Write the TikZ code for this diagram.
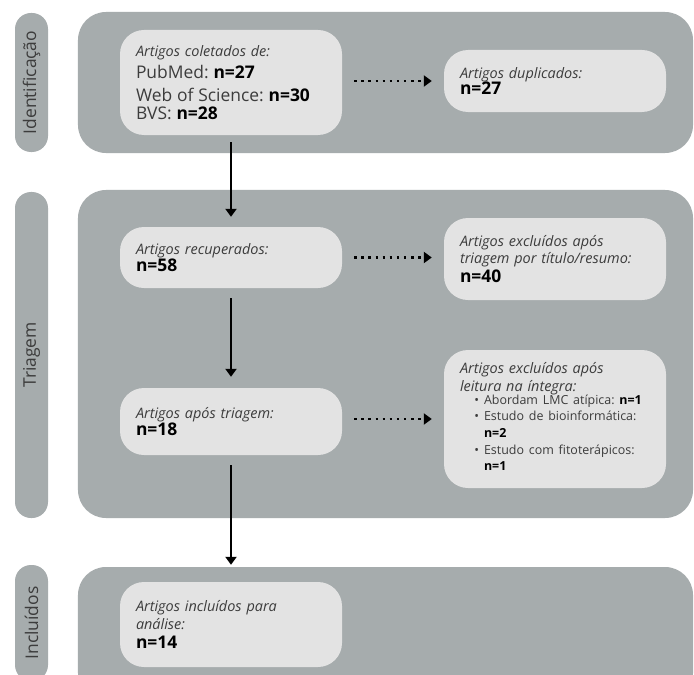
\documentclass[tikz,border=0pt]{standalone}
\usepackage{fontspec}
\setmainfont{Open Sans}
\usetikzlibrary{arrows.meta,positioning,calc}
\definecolor{panelgray}{HTML}{A6ACAD}
\definecolor{boxgray}{HTML}{E3E3E3}
\definecolor{txtgray}{HTML}{3C3C3C}
\newcommand{\hd}[1]{{\itshape #1}}
\newcommand{\nn}[1]{\textbf{\textcolor{black}{#1}}}
\newcommand{\bul}{\makebox[24bp][r]{\textbullet\hspace{5bp}}}
\frenchspacing
\tikzset{
  stage/.style={fill=panelgray, rounded corners=28bp, minimum width=615bp, inner sep=0pt},
  tag/.style={fill=panelgray, rounded corners=16bp, minimum height=33bp, inner sep=0pt, rotate=90, text=txtgray, font=\fontsize{17.5}{20}\selectfont},
  record/.style={fill=boxgray, rounded corners=24bp, minimum width=222bp, text width=190bp, inner xsep=16bp, inner ysep=0pt, align=left, text=txtgray, font=\fontsize{14.5}{18}\selectfont},
  arrow/.style={-{Triangle[length=8bp,width=11bp]}, line width=2.3bp, black},
  dotarrow/.style={-{Triangle[length=8bp,width=11bp]}, line width=2.5bp, dash pattern=on 2.5bp off 4.6bp, black, shorten <=12bp, shorten >=12bp}
}
\begin{document}
\begin{tikzpicture}[x=1bp, y=-1bp]
  \clip (0,0) rectangle (694,675);
  \fill[white] (0,0) rectangle (694,675);
  % stages
  \node[tag, minimum width=139bp] (tagid) at (31.5,82.5) {Identificação};
  \node[tag, minimum width=326bp] (tagtri) at (31.5,355) {Triagem};
  \node[tag, minimum width=116bp] (taginc) at (31.5,623) {Incluídos};
  \node[stage, minimum height=141bp] (ident) at (385.5,82.5) {};
  \node[stage, minimum height=328bp] (triag) at (385.5,354) {};
  \node[stage, minimum height=134bp] (incl) at (385.5,634) {};
  % boxes
  \node[record, minimum height=105bp] (coleta) at (231,82.5)
    {\hd{Artigos coletados de:}\\[0bp]
     {\fontsize{17.5}{22.5}\selectfont PubMed: \nn{n=27}\\ Web of Science: \nn{n=30}\\ BVS: \nn{n=28}}};
  \node[record, minimum height=62bp] (dupl) at (555,81)
    {\hd{Artigos duplicados:}\\[-2bp] {\fontsize{17.5}{20}\selectfont\nn{n=27}}};
  \node[record, minimum height=61bp] (recup) at (231,257.5)
    {\hd{Artigos recuperados:}\\[-1bp] {\fontsize{17.5}{20}\selectfont\nn{n=58}}};
  \node[record, minimum height=82bp] (exctit) at (555,259)
    {\hd{Artigos excluídos após\\ triagem por título/resumo:}\\[1bp] {\fontsize{17.5}{20}\selectfont\nn{n=40}}};
  \node[record, minimum height=67bp] (triado) at (231,421.5)
    {\hd{Artigos após triagem:}\\[-1bp] {\fontsize{17.5}{20}\selectfont\nn{n=18}}};
  \node[record, minimum height=138bp] (exclei) at (555,419)
    {\hd{Artigos excluídos após\\ leitura na íntegra:}\\[-3bp]
     {\fontsize{12.5}{16.7}\selectfont
      \begin{tabular}{@{}l@{}l@{}}
        \bul & Abordam LMC atípica: \nn{n=1}\\
        \bul & Estudo de bioinformática:\\
             & \nn{n=2}\\
        \bul & Estudo com fitoterápicos:\\
             & \nn{n=1}
      \end{tabular}}};
  \node[record, minimum height=85bp] (final) at (231,624.5)
    {\hd{Artigos incluídos para\\ análise:}\\[1bp] {\fontsize{17.5}{20}\selectfont\nn{n=14}}};
  % connectors
  \draw[arrow, shorten <=7bp, shorten >=10bp] (coleta) -- (recup);
  \draw[arrow, shorten <=10bp, shorten >=11bp] (recup) -- (triado);
  \draw[arrow, shorten <=10bp, shorten >=2bp] (triado.south) -- (triado.south |- incl.north);
  \draw[dotarrow] (coleta.east |- dupl) -- (dupl);
  \draw[dotarrow] (recup) -- (recup -| exctit.west);
  \draw[dotarrow] (triado.east |- exclei) -- (exclei);
\end{tikzpicture}
\end{document}
